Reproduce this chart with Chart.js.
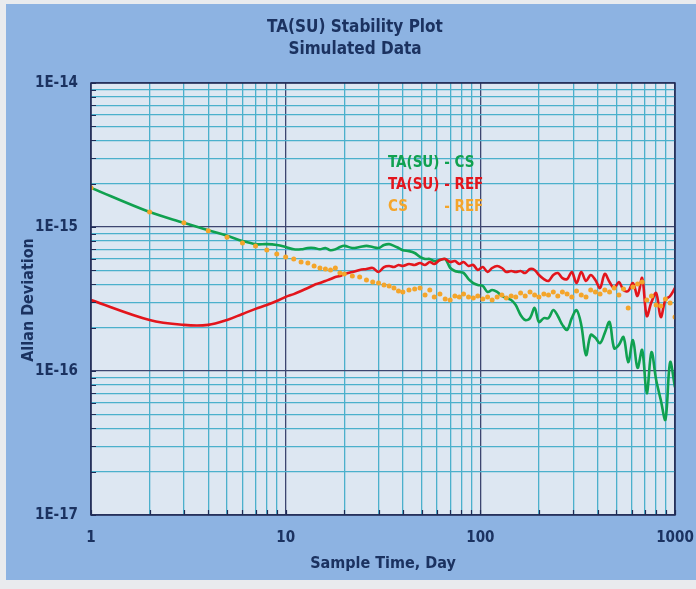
<!DOCTYPE html>
<html><head><meta charset="utf-8">
<script src="https://cdn.jsdelivr.net/npm/chart.js@4.4.0/dist/chart.umd.min.js"></script>
<style>html,body{margin:0;padding:0;background:#eceef1;}canvas{display:block}</style>
</head><body>
<canvas id="c" width="696" height="589"></canvas>
<script>
// ---- data ----
const tau = [1,2,3,4,5,6,7,8,9,10,11,12,13,14,15,16,17,18,19,20,22,24,26,28,30,32,34,36,38,40,43,46,49,52,55,58,62,66,70,74,78,82,87,92,97,103,109,115,122,129,136,144,152,161,170,180,190,200,212,224,237,250,264,279,295,312,330,349,369,390,412,436,461,487,515,544,575,608,642,678,716,757,800,845,893,944,1000];
const taSuCs = [1.87e-15,1.27e-15,1.07e-15,9.5e-16,8.7e-16,8.0e-16,7.6e-16,7.6e-16,7.5e-16,7.26e-16,7.0e-16,7.0e-16,7.15e-16,7.15e-16,7.0e-16,7.15e-16,6.9e-16,7.0e-16,7.26e-16,7.4e-16,7.15e-16,7.26e-16,7.4e-16,7.26e-16,7.15e-16,7.5e-16,7.6e-16,7.4e-16,7.15e-16,6.9e-16,6.8e-16,6.6e-16,6.2e-16,6.0e-16,6.0e-16,5.8e-16,5.9e-16,6.0e-16,5.2e-16,4.95e-16,4.87e-16,4.8e-16,4.35e-16,4.08e-16,3.96e-16,3.89e-16,3.54e-16,3.65e-16,3.54e-16,3.32e-16,3.21e-16,3.11e-16,2.87e-16,2.45e-16,2.26e-16,2.33e-16,2.74e-16,2.19e-16,2.33e-16,2.33e-16,2.65e-16,2.41e-16,2.09e-16,1.93e-16,2.33e-16,2.65e-16,2.09e-16,1.29e-16,1.78e-16,1.70e-16,1.56e-16,1.84e-16,2.19e-16,1.44e-16,1.52e-16,1.72e-16,1.15e-16,1.64e-16,1.05e-16,1.40e-16,7.0e-17,1.35e-16,8.7e-17,6.3e-17,4.6e-17,1.15e-16,7.7e-17];
const taSuRef = [3.11e-16,2.26e-16,2.09e-16,2.09e-16,2.26e-16,2.49e-16,2.70e-16,2.87e-16,3.06e-16,3.27e-16,3.42e-16,3.59e-16,3.77e-16,3.96e-16,4.08e-16,4.22e-16,4.35e-16,4.49e-16,4.57e-16,4.72e-16,4.87e-16,5.03e-16,5.11e-16,5.19e-16,4.87e-16,5.27e-16,5.36e-16,5.27e-16,5.45e-16,5.36e-16,5.53e-16,5.45e-16,5.62e-16,5.45e-16,5.71e-16,5.53e-16,5.90e-16,5.99e-16,5.71e-16,5.81e-16,5.53e-16,5.71e-16,5.36e-16,5.45e-16,5.03e-16,5.27e-16,4.87e-16,5.19e-16,5.36e-16,5.19e-16,4.87e-16,4.95e-16,4.87e-16,4.95e-16,4.79e-16,5.11e-16,5.03e-16,4.64e-16,4.35e-16,4.22e-16,4.64e-16,4.79e-16,4.42e-16,4.35e-16,4.87e-16,4.08e-16,4.87e-16,4.22e-16,4.64e-16,4.28e-16,3.77e-16,4.72e-16,4.15e-16,3.77e-16,4.15e-16,3.65e-16,3.59e-16,4.08e-16,3.32e-16,4.42e-16,2.41e-16,3.01e-16,3.48e-16,2.37e-16,3.11e-16,3.32e-16,3.77e-16];
const csRef = [1.87e-15,1.27e-15,1.07e-15,9.4e-16,8.5e-16,7.74e-16,7.38e-16,6.92e-16,6.49e-16,6.19e-16,5.99e-16,5.71e-16,5.62e-16,5.36e-16,5.19e-16,5.11e-16,5.03e-16,5.19e-16,4.79e-16,4.72e-16,4.57e-16,4.49e-16,4.28e-16,4.15e-16,4.08e-16,3.96e-16,3.89e-16,3.77e-16,3.59e-16,3.54e-16,3.65e-16,3.71e-16,3.77e-16,3.37e-16,3.65e-16,3.27e-16,3.42e-16,3.16e-16,3.11e-16,3.32e-16,3.27e-16,3.42e-16,3.27e-16,3.21e-16,3.32e-16,3.16e-16,3.27e-16,3.11e-16,3.27e-16,3.37e-16,3.21e-16,3.32e-16,3.27e-16,3.48e-16,3.32e-16,3.54e-16,3.37e-16,3.27e-16,3.42e-16,3.37e-16,3.54e-16,3.32e-16,3.54e-16,3.42e-16,3.27e-16,3.59e-16,3.37e-16,3.27e-16,3.65e-16,3.54e-16,3.42e-16,3.65e-16,3.54e-16,3.77e-16,3.37e-16,3.71e-16,2.74e-16,3.83e-16,4.02e-16,4.15e-16,3.11e-16,3.32e-16,2.87e-16,2.83e-16,3.16e-16,2.97e-16,2.37e-16];
const seriesNames = ['TA(SU) - CS', 'TA(SU) - REF', 'CS        - REF'];
const xTickLabels = ['1', '10', '100', '1000'];      // 10^0 .. 10^3
const yTickLabels = ['1E-17', '1E-16', '1E-15', '1E-14']; // 10^-17 .. 10^-14
const titleLines = ['TA(SU) Stability Plot', 'Simulated Data'];
const xTitle = 'Sample Time, Day';
const yTitle = 'Allan Deviation';

// ---- styling ----
const FONT = "'Liberation Sans Narrow', 'Arial Narrow', 'DejaVu Sans Condensed', 'Liberation Sans', sans-serif";
const NAVY = '#1b3260';
const GREEN = '#10a150', RED = '#e3151c', ORANGE = '#f4a52b';
const colors = [GREEN, RED, ORANGE];

function isDecade(v) { const l = Math.log10(v); return Math.abs(l - Math.round(l)) < 1e-6; }
function logTicks(scale) {
  const lo = Math.round(Math.log10(scale.min)), hi = Math.round(Math.log10(scale.max));
  const t = [];
  for (let d = lo; d <= hi; d++) {
    for (let m = 1; m <= 9; m++) {
      if (d === hi && m > 1) break;
      t.push({ value: m * Math.pow(10, d) });
    }
  }
  scale.ticks = t;
}
const gridColor = ctx => (ctx.tick && isDecade(ctx.tick.value)) ? '#3d4670' : '#4bb0cc';

const framePlugin = {
  id: 'frame',
  beforeDraw(chart) {
    const c = chart.ctx, a = chart.chartArea;
    c.save();
    c.fillStyle = '#e9ebee';
    c.fillRect(0, 0, chart.width, chart.height);
    c.fillStyle = '#8db3e2';
    c.fillRect(6, 4, chart.width - 6, chart.height - 13);
    c.fillStyle = '#dde7f2';
    c.fillRect(a.left, a.top, a.right - a.left, a.bottom - a.top);
    c.restore();
  },
  afterDatasetsDraw(chart) {
    const c = chart.ctx, a = chart.chartArea;
    const xs = chart.scales.x, ys = chart.scales.y;
    c.save();
    c.strokeStyle = '#1f2b55';
    c.lineWidth = 1.5;
    c.strokeRect(a.left, a.top, a.right - a.left, a.bottom - a.top);
    c.lineWidth = 1.2;
    c.beginPath();
    ys.ticks.forEach(t => { const y = Math.round(ys.getPixelForValue(t.value)) + 0.5; c.moveTo(a.left, y); c.lineTo(a.left + 5, y); });
    xs.ticks.forEach(t => { const x = Math.round(xs.getPixelForValue(t.value)) + 0.5; c.moveTo(x, a.bottom); c.lineTo(x, a.bottom - 5); });
    c.stroke();
    c.restore();
  },
  afterDraw(chart) {
    const c = chart.ctx, a = chart.chartArea;
    c.save();
    c.fillStyle = NAVY;
    c.textAlign = 'center';
    c.textBaseline = 'middle';
    c.font = 'bold 17px ' + FONT;
    c.fillText(titleLines[0], 355, 28);
    c.fillText(titleLines[1], 355, 50);
    c.font = 'bold 16px ' + FONT;
    c.fillText(xTitle, (a.left + a.right) / 2, 564);
    c.save();
    c.translate(29, 300);
    c.rotate(-Math.PI / 2);
    c.fillText(yTitle, 0, 0);
    c.restore();
    // legend
    c.textAlign = 'left';
    c.font = 'bold 15px ' + FONT;
    const lx = 388, ly = [163, 185, 207];
    c.fillStyle = colors[0]; c.fillText(seriesNames[0], lx, ly[0]);
    c.fillStyle = colors[1]; c.fillText(seriesNames[1], lx, ly[1]);
    const parts = seriesNames[2].split(/\s+-\s*/);
    const dashX = lx + c.measureText('TA(SU) ').width;
    c.fillStyle = colors[2];
    c.fillText(parts[0], lx, ly[2]);
    c.fillText('- ' + parts[1], dashX, ly[2]);
    c.restore();
  }
};

const mk = arr => tau.map((t, i) => ({ x: t, y: arr[i] }));

new Chart(document.getElementById('c'), {
  type: 'scatter',
  data: {
    datasets: [
      { label: seriesNames[0], data: mk(taSuCs), showLine: true, borderColor: GREEN, borderWidth: 2.6, pointRadius: 0, tension: 0.35, order: 2 },
      { label: seriesNames[1], data: mk(taSuRef), showLine: true, borderColor: RED, borderWidth: 2.6, pointRadius: 0, tension: 0.35, order: 1 },
      { label: seriesNames[2], data: mk(csRef), showLine: false, pointRadius: 2.5, pointBorderWidth: 0, pointBackgroundColor: ORANGE, backgroundColor: ORANGE, order: 0 }
    ]
  },
  options: {
    responsive: false,
    animation: false,
    devicePixelRatio: 1,
    layout: { padding: { left: 0, top: 83, right: 21, bottom: 0 } },
    plugins: { legend: { display: false }, title: { display: false }, tooltip: { enabled: false } },
    scales: {
      x: {
        type: 'logarithmic', min: 1, max: 1000,
        afterBuildTicks: logTicks,
        afterFit: s => { s.height = 74; s.paddingLeft = 0; s.paddingRight = 0; },
        grid: { color: gridColor, lineWidth: 1.3, drawTicks: false },
        border: { display: false },
        ticks: {
          autoSkip: false, maxRotation: 0, padding: 14, color: NAVY,
          font: { family: FONT, size: 15, weight: 'bold' },
          callback: v => isDecade(v) ? xTickLabels[Math.round(Math.log10(v))] : ''
        }
      },
      y: {
        type: 'logarithmic', min: 1e-17, max: 1e-14,
        afterBuildTicks: logTicks,
        afterFit: s => { s.width = 91; s.paddingTop = 0; s.paddingBottom = 0; },
        grid: { color: gridColor, lineWidth: 1.3, drawTicks: false },
        border: { display: false },
        ticks: {
          autoSkip: false, padding: 13, color: NAVY,
          font: { family: FONT, size: 15, weight: 'bold' },
          callback: v => isDecade(v) ? yTickLabels[Math.round(Math.log10(v)) + 17] : ''
        }
      }
    }
  },
  plugins: [framePlugin]
});
</script>
</body></html>
